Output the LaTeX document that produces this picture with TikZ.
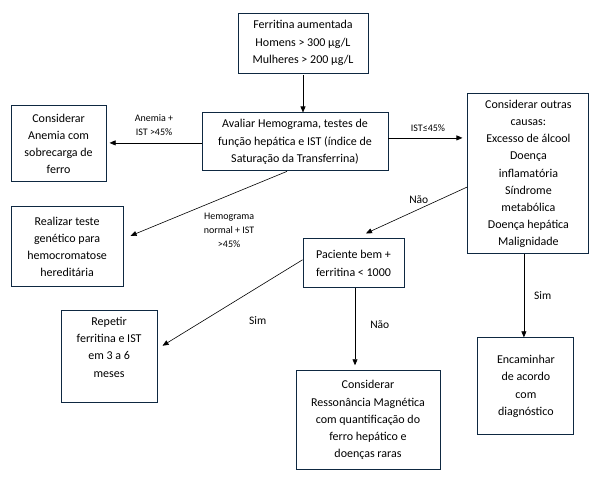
\documentclass[tikz,border=0pt]{standalone}
\usepackage{fontspec}
\setmainfont{Carlito}
\usepackage{tikz}
\usetikzlibrary{positioning, arrows.meta}
\definecolor{boxline}{HTML}{0E2841}

\begin{document}
\begin{tikzpicture}[x=1pt, y=-1pt,
  box/.style={rectangle, draw=boxline, line width=0.9pt, align=center, inner sep=2pt,
    font=\fontsize{12}{17.2}\selectfont},
  lbl/.style={align=center, inner sep=1pt, font=\fontsize{10}{14}\selectfont},
  resp/.style={inner sep=1pt, font=\fontsize{11.5}{13}\selectfont},
  arr/.style={-{Triangle[length=6pt, width=5pt]}, line width=0.6pt, black}
]
\path[fill=white] (0,0) rectangle (601,485);

\node[box, minimum width=130pt, minimum height=60pt] (ferritina) at (303,43) {Ferritina aumentada\\Homens > 300 µg/L\\Mulheres > 200 µg/L};
\node[box, minimum width=186pt, minimum height=58pt, below=39pt of ferritina, xshift=-8pt] (avaliar) {Avaliar Hemograma, testes de\\função hepática e IST (índice de\\Saturação da Transferrina)};
\node[box, minimum width=95pt, minimum height=76pt, left=95pt of avaliar, yshift=-2pt] (anemia) {Considerar\\Anemia com\\sobrecarga de\\ferro};
\node[box, minimum width=112pt, minimum height=80pt, below=24pt of anemia.south west, anchor=north west] (genetico) {Realizar teste\\genético para\\hemocromatose\\hereditária};
\node[box, minimum width=121pt, minimum height=160pt, right=79pt of avaliar, yshift=-32pt] (outras) {Considerar outras\\causas:\\Excesso de álcool\\Doença\\inflamatória\\Síndrome\\metabólica\\Doença hepática\\Malignidade};
\node[box, minimum width=101pt, minimum height=49pt, below=67pt of avaliar, xshift=58.5pt] (paciente) {Paciente bem +\\ferritina < 1000};
\node[box, minimum width=96pt, minimum height=92pt, below=23pt of genetico, xshift=42pt] (repetir) {Repetir\\ferritina e IST\\em 3 a 6\\meses\\[2pt]\mbox{}};
\node[box, minimum width=144pt, minimum height=99pt, below=82pt of paciente, xshift=14.5pt] (ressonancia) {Considerar\\Ressonância Magnética\\com quantificação do\\ferro hepático e\\doenças raras};
\node[box, minimum width=96pt, minimum height=97pt, below=83pt of outras, xshift=-2.5pt] (encaminhar) {Encaminhar\\de acordo\\com\\diagnóstico};

\draw[arr, shorten <=2pt] (ferritina.south) -- (ferritina.south |- avaliar.north);
\draw[arr, shorten >=3pt] ([yshift=-1pt]avaliar.west) -- node[lbl, above=6pt] {Anemia +\\IST >45\%} ([yshift=-1pt]avaliar.west -| anemia.east);
\draw[arr, shorten >=5pt] ([yshift=4pt]avaliar.east) -- node[lbl, above=5pt] {IST≤45\%} ([yshift=4pt]avaliar.east -| outras.west);
\draw[arr] ([xshift=-8pt]avaliar.south) -- node[lbl, pos=0.37, below=17pt] {Hemograma\\normal + IST\\>45\%} ([xshift=7pt, yshift=11pt]genetico.east);
\draw[arr] ([yshift=-13pt]outras.west) -- node[resp, pos=0.48, above=4pt] {Não} ([xshift=12.5pt, yshift=5pt]paciente.north);
\draw[arr] ([yshift=3.5pt]paciente.west) -- node[resp, pos=0.32, below=28pt] {Sim} ([xshift=5pt, yshift=11pt]repetir.east);
\draw[arr, shorten >=5pt] ([xshift=1.5pt]paciente.south) -- node[resp, pos=0.44, right=14pt] {Não} ([xshift=1.5pt]paciente.south |- ressonancia.north);
\draw[arr] ([xshift=-4.5pt]outras.south) -- node[resp, right=9pt] {Sim} ([xshift=-4.5pt]outras.south |- encaminhar.north);
\end{tikzpicture}
\end{document}
